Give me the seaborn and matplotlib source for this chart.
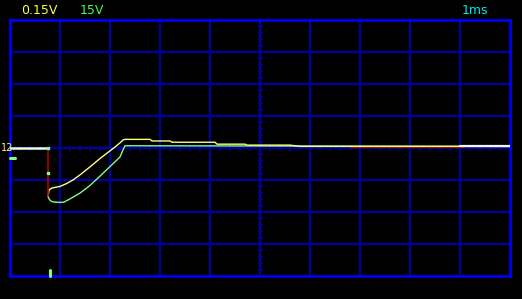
import numpy as np
import pandas as pd
import matplotlib
matplotlib.use("Agg")
import matplotlib.pyplot as plt
import seaborn as sns

# ---- data (time in ms, amplitude in screen divisions) ----
pre_t = [0.00, 0.75]
pre_v = [0.00, 0.00]
yellow_t = [0.76, 0.78, 0.84, 1.00, 1.12, 1.26, 1.40, 1.60, 1.80, 1.94, 2.10, 2.20, 2.26, 2.30,
            2.80, 2.84, 3.20, 3.24, 4.10, 4.14, 4.70, 4.74, 5.60, 5.80, 10.00]
yellow_v = [-1.50, -1.31, -1.25, -1.20, -1.12, -1.00, -0.84, -0.59, -0.33, -0.16, 0.03, 0.16, 0.25, 0.27,
            0.27, 0.22, 0.22, 0.18, 0.18, 0.12, 0.12, 0.09, 0.09, 0.05, 0.05]
green_t = [0.76, 0.78, 0.82, 0.88, 1.00, 1.08, 1.20, 1.40, 1.60, 1.80, 2.00, 2.20, 2.26, 2.30, 10.00]
green_v = [-1.51, -1.59, -1.66, -1.69, -1.70, -1.69, -1.59, -1.41, -1.17, -0.88, -0.58, -0.28, -0.06, 0.07, 0.05]
red_t = [0.75, 0.75]
red_v = [0.00, -1.51]
red_tail_t = [6.80, 9.06]
red_tail_v = [0.02, 0.02]
white_t = [9.00, 10.00]
white_v = [0.05, 0.05]

labels_top = ["0.15V", "15V", "1ms"]
channel_label = "12"

# ---- figure ----
W, H, DPI = 522, 299, 100
sns.set_theme(style="dark")
plt.rcParams["font.family"] = ["Liberation Sans Narrow", "DejaVu Sans"]
fig = plt.figure(figsize=(W / DPI, H / DPI), dpi=DPI, facecolor="black")
ax = fig.add_axes([10 / W, (H - 276) / H, 500 / W, 256 / H])
ax.set_facecolor("black")
ax.set_xlim(0, 10)
ax.set_ylim(-4, 4)
ax.set_xticks([])
ax.set_yticks([])
for s in ax.spines.values():
    s.set_color("#0000ee")
    s.set_linewidth(2.0)
    s.set_visible(True)

grid_c = "#0000a8"
for gx in range(1, 10):
    ax.axvline(gx, color=grid_c, lw=1.5, zorder=1)
for gy in range(-3, 4):
    ax.axhline(gy, color=grid_c, lw=1.5, zorder=1)
# centre graticule ticks
tx = np.arange(0, 10.01, 0.2)
ax.plot(tx, np.zeros_like(tx), ls="none", marker="|", ms=3.6, mew=1.3, color=grid_c, zorder=1)
ty = np.arange(-4, 4.01, 0.2)
ax.plot(np.full_like(ty, 5.0), ty, ls="none", marker="_", ms=3.6, mew=1.3, color=grid_c, zorder=1)

# ---- traces ----
sns.lineplot(x=red_tail_t, y=red_tail_v, color="#8a0000", lw=1.0, ax=ax, sort=False, estimator=None, zorder=2)
sns.lineplot(x=green_t, y=green_v, color="#80ff80", lw=1.0, ax=ax, sort=False, estimator=None, zorder=4)
sns.lineplot(x=yellow_t, y=yellow_v, color="#ffff80", lw=1.0, ax=ax, sort=False, estimator=None, zorder=5)
sns.lineplot(x=pre_t, y=pre_v, color="#e8ffd0", lw=1.8, ax=ax, sort=False, estimator=None, zorder=5)
sns.lineplot(x=white_t, y=white_v, color="#f4f4f4", lw=1.6, ax=ax, sort=False, estimator=None, zorder=6)
sns.lineplot(x=red_t, y=red_v, color="#b00000", lw=1.2, ax=ax, sort=False, estimator=None, zorder=6)
ax.plot([0.75], [-0.77], ls="none", marker="s", ms=2, color="#80ff80", zorder=7)
ax.plot([0.75], [0.0], ls="none", marker="s", ms=2, color="#80ff80", zorder=7)

# markers outside grid
ax.plot([0.0, 0.1], [-0.30, -0.30], color="#80ff80", lw=2.2, clip_on=False, zorder=8)
ax.plot([0.79, 0.79], [-3.80, -4.0], color="#80ff80", lw=2.2, clip_on=False, zorder=8)

# ---- text ----
fs = 9
fig.text(21 / W, 1 - 10 / H, labels_top[0], color="#ffff40", fontsize=fs, va="center", ha="left")
fig.text(80 / W, 1 - 10 / H, labels_top[1], color="#40ff40", fontsize=fs, va="center", ha="left")
fig.text(462 / W, 1 - 10 / H, labels_top[2], color="#00e8e8", fontsize=fs, va="center", ha="left")
fig.text(1 / W, 1 - 148 / H, channel_label, color="#ffff40", fontsize=7, va="center", ha="left")

fig.savefig("out.png", dpi=DPI, facecolor="black")
